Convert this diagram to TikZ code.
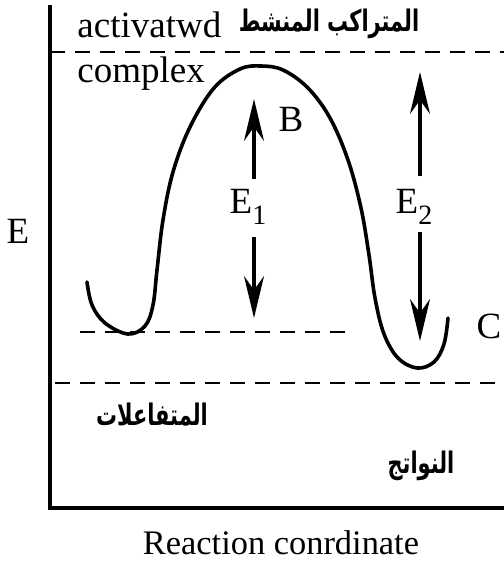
\documentclass[tikz,border=0pt]{standalone}
\usepackage{fontspec}
\usepackage{graphicx}
\setmainfont{Liberation Serif}
\newfontfamily\arabicfont[Script=Arabic]{DejaVu Sans}
\TeXXeTstate=1
\usetikzlibrary{arrows.meta}
\newcommand{\artall}[1]{\scalebox{0.95}[1.35]{#1}}
\newcommand{\mysub}[1]{\raisebox{-0.28em}{\fontsize{14}{14}\selectfont #1}}
\begin{document}
\begin{tikzpicture}[x=0.5pt,y=-0.5pt,
  axisline/.style={line width=1.6pt},
  levelline/.style={line width=1.3pt,dash pattern=on 7.5pt off 5pt},
  curveline/.style={line width=1.8pt,line cap=round},
  energyarrow/.style={line width=1.6pt,-{Stealth[length=21pt,width=10pt,inset=7pt]}},
  lbl/.style={inner sep=0pt,font=\fontsize{18.5}{20}\selectfont},
  arlbl/.style={inner sep=0pt,font=\arabicfont\bfseries\fontsize{11}{13}\selectfont}]
\useasboundingbox (0,0) rectangle (504,564);
% axes
\draw[axisline] (50,5) -- (50,508) -- (504,508);
% levels
\draw[levelline] (50,52) -- (504,52);
\draw[levelline] (80,332) -- (352,332);
\draw[levelline] (55,383) -- (504,383);
% energy curve
\draw[curveline] plot[smooth,tension=0.6] coordinates {
 (87,282) (92,305) (105,323) (128,334) (145,326) (153,305) (157,270)
 (163,220) (173,172) (190,127) (214,88) (240,69) (261,66) (283,70)
 (308,88) (330,118) (348,160) (361,208) (369,255) (375,298) (384,334)
 (398,358) (417,368) (434,362) (444,344) (448,318)};
% labels
\node[lbl,anchor=base west] (act) at (77,37) {activatwd};
\node[lbl,anchor=base west] (cpx) at (77,82) {complex};
\node[arlbl] (arTS) at (329,24) {\artall{\beginR المتراكب المنشط\endR}};
\node[arlbl] (arR) at (152,415) {\artall{\beginR المتفاعلات\endR}};
\node[arlbl] (arP) at (421,466) {\artall{\beginR النواتج\endR}};
\node[lbl] (B) at (291,119) {B};
\node[lbl] (C) at (489,326) {C};
\node[lbl] (E) at (18,231) {E};
\node[lbl] (E1) at (248,207) {E\mysub{1}};
\node[lbl] (E2) at (414,207) {E\mysub{2}};
\node[inner sep=0pt,font=\fontsize{17.2}{19}\selectfont] (xl) at (281,543) {Reaction conrdinate};
% arrows
\coordinate (e1a) at (254,179);
\coordinate (e1t) at (254,99);
\coordinate (e1b) at (254,237);
\coordinate (e1d) at (254,318);
\coordinate (e2a) at (420,176);
\coordinate (e2t) at (420,72);
\coordinate (e2b) at (420,232);
\coordinate (e2d) at (420,341);
\draw[energyarrow] (e1a) -- (e1t);
\draw[energyarrow] (e1b) -- (e1d);
\draw[energyarrow] (e2a) -- (e2t);
\draw[energyarrow] (e2b) -- (e2d);
\end{tikzpicture}
\end{document}
